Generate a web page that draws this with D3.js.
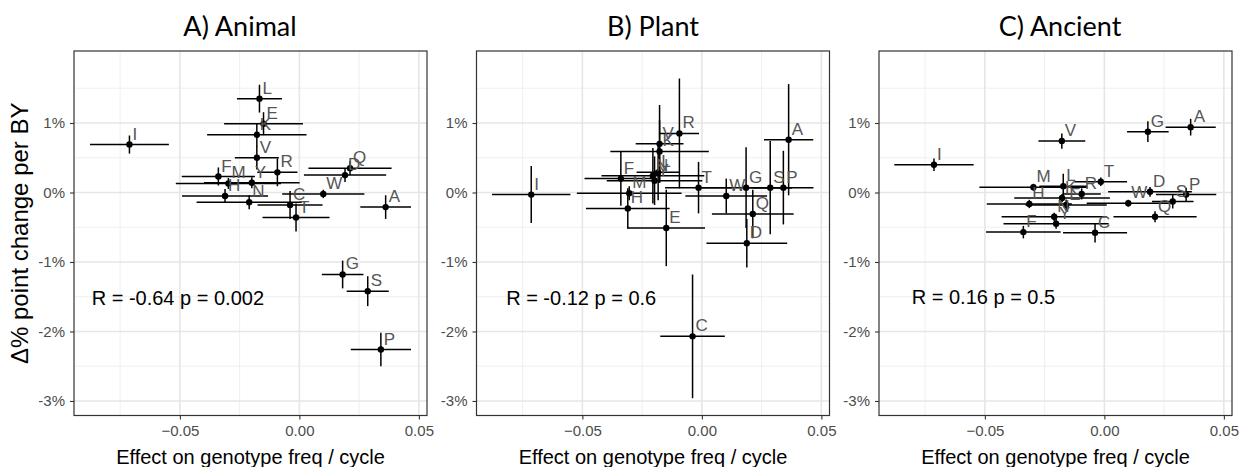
<!DOCTYPE html>
<html lang="en">
<head>
    <meta charset="UTF-8">
    <title>Genotype freq effect vs % point change</title>
    <script src="https://cdn.jsdelivr.net/npm/d3@7"></script>
    <style>
        body { margin: 0; background: #fff; }
        svg text { font-family: "Liberation Sans", Arial, sans-serif; }
    </style>
</head>
<body>
    <div id="chart"></div>
    <script>
        // =============================
        // Data (x: effect on genotype freq / cycle, y: % point change per BY)
        // =============================
        const panelTitles = ["A) Animal", "B) Plant", "C) Ancient"];
        const statTexts = ["R = -0.64 p = 0.002", "R = -0.12 p = 0.6", "R = 0.16 p = 0.5"];
        const statX = [-0.0869, -0.0819, -0.0806];
        const statY = [-1.52, -1.52, -1.51];

        const xTicks = [-0.05, 0, 0.05];
        const xMinor = [-0.075, -0.025, 0.025];
        const yTicks = [1, 0, -1, -2, -3];
        const yMinor = [1.5, 0.5, -0.5, -1.5, -2.5];

        // Animal
        const labelsA = ["I", "L", "E", "K", "V", "R", "F", "M", "Y", "H", "N", "C", "T", "W", "D", "Q", "A", "G", "S", "P"];
        const xA   = [-0.0711, -0.0167, -0.0150, -0.0178, -0.0178, -0.0092, -0.0339, -0.0297, -0.0199, -0.0311, -0.0210, -0.0039, -0.0014, 0.0100, 0.0191, 0.0212, 0.0361, 0.0181, 0.0286, 0.0341];
        const xErrA = [0.0165, 0.0094, 0.0165, 0.0208, 0.0092, 0.0084, 0.0153, 0.0220, 0.0200, 0.0180, 0.0220, 0.0136, 0.0140, 0.0172, 0.0172, 0.0174, 0.0106, 0.0087, 0.0088, 0.0126];
        const yA   = [0.69, 1.35, 0.99, 0.83, 0.50, 0.29, 0.23, 0.13, 0.14, -0.05, -0.14, -0.18, -0.36, -0.02, 0.25, 0.35, -0.21, -1.18, -1.42, -2.26];
        const yErrA = [0.13, 0.20, 0.165, 0.17, 0.17, 0.20, 0.13, 0.08, 0.08, 0.10, 0.10, 0.20, 0.20, 0.06, 0.10, 0.10, 0.17, 0.20, 0.215, 0.24];

        // Plant
        const labelsB = ["I", "F", "M", "H", "E", "R", "K", "V", "L", "N", "Y", "T", "W", "G", "S", "P", "A", "Q", "D", "C"];
        const xB   = [-0.0714, -0.0339, -0.0304, -0.0310, -0.0149, -0.0094, -0.0177, -0.0177, -0.0183, -0.0205, -0.0198, -0.0014, 0.0102, 0.0185, 0.0286, 0.0341, 0.0363, 0.0213, 0.0188, -0.0039];
        const xErrB = [0.0164, 0.0152, 0.0219, 0.0175, 0.0162, 0.0082, 0.0206, 0.0100, 0.0090, 0.0215, 0.0200, 0.0140, 0.0171, 0.0190, 0.0090, 0.0126, 0.0103, 0.0171, 0.0169, 0.0135];
        const yB   = [-0.03, 0.20, -0.01, -0.23, -0.51, 0.85, 0.59, 0.70, 0.29, 0.24, 0.17, 0.07, -0.05, 0.07, 0.07, 0.07, 0.76, -0.31, -0.73, -2.07];
        const yErrB = [0.41, 0.39, 0.10, 0.29, 0.55, 0.79, 0.45, 0.56, 0.40, 0.40, 0.35, 0.37, 0.25, 0.58, 0.67, 0.53, 0.80, 0.35, 0.35, 0.89];

        // Ancient
        const labelsC = ["I", "V", "G", "A", "M", "L", "R", "T", "D", "W", "S", "P", "Q", "H", "E", "K", "N", "Y", "F", "C"];
        const xC   = [-0.0713, -0.0178, 0.0182, 0.0361, -0.0297, -0.0172, -0.0095, -0.0015, 0.0191, 0.0100, 0.0286, 0.0342, 0.0212, -0.0314, -0.0160, -0.0177, -0.0210, -0.0202, -0.0339, -0.0039];
        const xErrC = [0.0166, 0.0098, 0.0087, 0.0105, 0.0226, 0.0100, 0.0080, 0.0110, 0.0175, 0.0174, 0.0087, 0.0126, 0.0174, 0.0178, 0.0170, 0.0200, 0.0220, 0.0220, 0.0156, 0.0134];
        const yC   = [0.40, 0.74, 0.875, 0.94, 0.075, 0.09, -0.02, 0.155, 0.01, -0.155, -0.13, -0.03, -0.35, -0.165, -0.18, -0.08, -0.35, -0.45, -0.57, -0.58];
        const yErrC = [0.09, 0.11, 0.15, 0.12, 0.05, 0.18, 0.08, 0.06, 0.07, 0.05, 0.10, 0.10, 0.08, 0.06, 0.08, 0.06, 0.06, 0.07, 0.09, 0.14];

        const panels = [
            { labels: labelsA, x: xA, xe: xErrA, y: yA, ye: yErrA },
            { labels: labelsB, x: xB, xe: xErrB, y: yB, ye: yErrB },
            { labels: labelsC, x: xC, xe: xErrC, y: yC, ye: yErrC }
        ];

        // =============================
        // Layout
        // =============================
        const width = 1240, height = 467;
        const panelLeft = [74, 476.5, 879];
        const titleX = [240, 653, 1060];
        const panelW = 353;
        const panelTop = 51, panelH = 364.5;

        const svg = d3.select("#chart").append("svg")
            .attr("width", width)
            .attr("height", height);

        const xScale = d3.scaleLinear().domain([-0.0943, 0.0534]).range([0, panelW]);
        const yScale = d3.scaleLinear().domain([-3.209, 2.036]).range([panelH, 0]);

        // y axis title
        svg.append("text")
            .attr("transform", `translate(19, ${panelTop + panelH / 2}) rotate(-90)`)
            .attr("text-anchor", "middle")
            .attr("dominant-baseline", "central")
            .attr("font-size", "24px")
            .attr("fill", "#000")
            .text("Δ% point change per BY");

        panels.forEach((p, i) => {
            const g = svg.append("g").attr("transform", `translate(${panelLeft[i]}, ${panelTop})`);

            // title
            svg.append("text")
                .attr("x", titleX[i])
                .attr("y", 36)
                .attr("text-anchor", "middle")
                .style("font-family", "Lato, 'Open Sans', sans-serif")
                .attr("font-size", "27px")
                .attr("fill", "#000")
                .text(panelTitles[i]);

            // grid
            g.selectAll(".xminor").data(xMinor).join("line")
                .attr("x1", d => xScale(d)).attr("x2", d => xScale(d))
                .attr("y1", 0).attr("y2", panelH)
                .attr("stroke", "#ebebeb").attr("stroke-width", 0.8);
            g.selectAll(".yminor").data(yMinor).join("line")
                .attr("y1", d => yScale(d)).attr("y2", d => yScale(d))
                .attr("x1", 0).attr("x2", panelW)
                .attr("stroke", "#ebebeb").attr("stroke-width", 0.8);
            g.selectAll(".xmajor").data(xTicks).join("line")
                .attr("x1", d => xScale(d)).attr("x2", d => xScale(d))
                .attr("y1", 0).attr("y2", panelH)
                .attr("stroke", "#e6e6e6").attr("stroke-width", 1.6);
            g.selectAll(".ymajor").data(yTicks).join("line")
                .attr("y1", d => yScale(d)).attr("y2", d => yScale(d))
                .attr("x1", 0).attr("x2", panelW)
                .attr("stroke", "#e6e6e6").attr("stroke-width", 1.6);

            // axes
            const xAxis = g.append("g")
                .attr("transform", `translate(0, ${panelH})`)
                .call(d3.axisBottom(xScale).tickValues(xTicks).tickSize(4).tickPadding(6)
                    .tickFormat(d3.format(".2f")));
            const yAxis = g.append("g")
                .call(d3.axisLeft(yScale).tickValues(yTicks).tickSize(4).tickPadding(5)
                    .tickFormat(d => d + "%"));
            [xAxis, yAxis].forEach(ax => {
                ax.select(".domain").remove();
                ax.selectAll(".tick line").attr("stroke", "#333").attr("stroke-width", 1.1);
                ax.selectAll(".tick text")
                    .attr("fill", "#4d4d4d")
                    .attr("font-size", "15px")
                    .style("font-family", "'Liberation Sans', Arial, sans-serif");
            });
            xAxis.selectAll(".tick text").text(d => d === 0 ? "0.00" : d3.format(".2f")(d));

            // border
            g.append("rect")
                .attr("width", panelW).attr("height", panelH)
                .attr("fill", "none").attr("stroke", "#333").attr("stroke-width", 1.2);

            // x axis title
            svg.append("text")
                .attr("x", panelLeft[i] + panelW / 2)
                .attr("y", 464)
                .attr("text-anchor", "middle")
                .attr("font-size", "20px")
                .attr("fill", "#000")
                .text("Effect on genotype freq / cycle");

            const idx = d3.range(p.labels.length);

            // error bars
            g.selectAll(".hbar").data(idx).join("line")
                .attr("x1", j => xScale(p.x[j] - p.xe[j]))
                .attr("x2", j => xScale(p.x[j] + p.xe[j]))
                .attr("y1", j => yScale(p.y[j]))
                .attr("y2", j => yScale(p.y[j]))
                .attr("stroke", "#000").attr("stroke-width", 1.5);
            g.selectAll(".vbar").data(idx).join("line")
                .attr("x1", j => xScale(p.x[j]))
                .attr("x2", j => xScale(p.x[j]))
                .attr("y1", j => yScale(p.y[j] - p.ye[j]))
                .attr("y2", j => yScale(p.y[j] + p.ye[j]))
                .attr("stroke", "#000").attr("stroke-width", 1.5);

            // points
            g.selectAll(".pt").data(idx).join("circle")
                .attr("cx", j => xScale(p.x[j]))
                .attr("cy", j => yScale(p.y[j]))
                .attr("r", 3.2)
                .attr("fill", "#000");

            // labels
            g.selectAll(".lab").data(idx).join("text")
                .attr("x", j => xScale(p.x[j]) + 3)
                .attr("y", j => yScale(p.y[j]) - 5)
                .attr("font-size", "17px")
                .attr("fill", "#555")
                .text(j => p.labels[j]);

            // correlation text
            g.append("text")
                .attr("x", xScale(statX[i]))
                .attr("y", yScale(statY[i]))
                .attr("dominant-baseline", "central")
                .attr("font-size", "20px")
                .attr("fill", "#000")
                .text(statTexts[i]);
        });
    </script>
</body>
</html>
